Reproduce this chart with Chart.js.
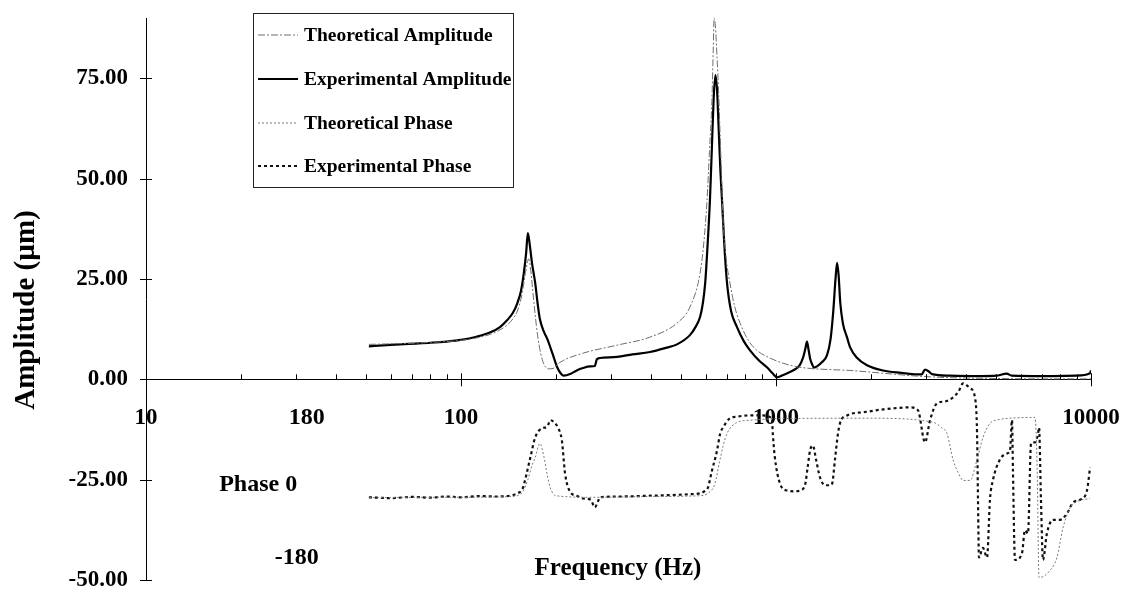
<!DOCTYPE html>
<html><head><meta charset="utf-8">
<script src="https://cdn.jsdelivr.net/npm/chart.js@4.4.1/dist/chart.umd.min.js"></script>
<style>html,body{margin:0;padding:0;background:#fff}#wrap{width:1124px;height:591px}</style>
</head><body><div id="wrap"><canvas id="c" width="1124" height="591"></canvas></div>
<script>
const xTickValues = [10, 100, 1000, 10000];
const yTickValues = [-50, -25, 0, 25, 50, 75];
const seriesLabels = ['Theoretical Amplitude', 'Experimental Amplitude', 'Theoretical Phase', 'Experimental Phase'];

const theoAmpFreq = [51,58,64,72,80,90,100,112,124,133,140,146,151,155,158,161,164,166,169,172,175,179,184,190,196,206,244,313,398,485,533,574,590,604,615,626,632,636,642,650,657,664,672,679,695,714,740,769,820,870,950,1053,1150,1283,1500,1718,2188,2803,3567,5000,7000,10000];
const theoAmpVal = [8.7,8.8,8.9,9.0,9.2,9.4,9.7,10.3,11.2,12.3,13.5,15,17,20,23.5,27.5,30,28,22,16,11,6.5,3.5,2.6,2.7,4.2,6.5,8.5,10.5,14,18,26.4,34,44.6,57,69.5,82,90,88,80,72,62,50,40,30,24,18,14,9.5,7.2,5.4,4,3.2,2.7,2.4,2.2,1.5,0.8,0.4,0.2,0.1,0.1];

const expAmpFreq = [51,58,64,72,80,90,100,112,124,133,140,146,151,155,158,161,163,165,168,172,175,178,183,188,195,202,208,212,222,233,244,257,266,270,276,313,350,398,450,485,533,555,574,586,596,606,617,626,634,642,650,658,666,674,686,699,720,752,790,827,880,936,975,1006,1050,1107,1150,1191,1220,1240,1254,1268,1283,1301,1320,1349,1400,1452,1490,1520,1545,1563,1580,1600,1630,1680,1718,1800,1945,2188,2500,2803,2900,2972,3050,3128,3567,4500,5000,5400,5600,7000,9000,9930,10000];
const expAmpVal = [8.2,8.5,8.7,8.9,9.1,9.4,9.8,10.6,11.7,13,14.7,16.5,19,22,26,31.5,36.4,34,29,24,19,15,12,10,6.5,3,1.3,0.9,1.3,2.2,2.8,3.2,3.3,5.0,5.3,5.6,6.2,6.8,7.9,8.7,11,13,15.5,19,24,33,44.6,58,70,75.8,72,62,52,44.6,33,24,17,13,9.5,7.2,4.8,3,1.5,0.5,1,1.8,2.5,3.6,5.5,7.7,9.4,7.5,5.2,3.8,2.9,3.2,4.3,6,10,17,25,29,26,19,14,10.5,8,5.5,3.5,2.2,1.6,1.2,1.2,2.4,2.0,1.3,0.9,0.8,0.9,1.4,0.9,0.8,0.9,1.5,2.2];

const theoPhFreq = [51,80,100,130,151,157,163,168,172,178,183,188,192,200,260,400,574,608,640,660,680,699,750,827,900,1000,2000,3150,3350,3490,3648,3800,3925,4130,4348,4539,4778,5140,5532,6642,6745,6840,7413,7798,8150,8580,9000,9930];
const theoPhVal = [-29.5,-29.4,-29.4,-29.3,-29,-28,-25,-21.5,-19.5,-16,-19,-24,-27,-29,-29.4,-29.2,-29,-28.4,-26,-21,-16.5,-13.5,-10.8,-10.2,-10,-9.8,-9.7,-10.7,-12,-13.5,-20,-23.5,-25.2,-25.2,-20,-14.5,-11,-10,-9.7,-9.5,-22,-49.4,-47.6,-44.4,-37,-32,-30.5,-29.7];

const expPhFreq = [51,60,70,80,90,100,115,130,145,151,157,161,166,172,181,188,192,198,203,209,214,222,233,244,258,266,272,276,320,400,480,540,574,595,608,625,650,665,679,714,750,827,900,970,977,990,1030,1084,1150,1191,1236,1260,1283,1310,1340,1379,1431,1480,1507,1539,1570,1596,1680,1900,2188,2663,2823,2972,3083,3243,3450,3648,3800,3925,4130,4285,4348,4378,4409,4539,4677,4778,4887,5140,5408,5532,5613,5650,5737,6036,6170,6310,6451,6642,6792,6840,6937,7040,7245,7573,7976,8395,8770,9230,9710,9930];
const expPhVal = [-29.4,-29.6,-29.3,-29.5,-29.2,-29.4,-29.1,-29.2,-28.9,-28.4,-27.2,-24,-19.5,-14.5,-12.2,-11.8,-10.2,-10.8,-12,-15.2,-23.5,-28,-29,-29.7,-30,-31.9,-30.5,-29.4,-29.2,-29,-28.8,-28.6,-28.4,-27.8,-27,-23,-17.7,-13.5,-12,-9.7,-9.3,-9,-9,-9.7,-13.5,-19,-26,-27.7,-27.9,-27.7,-26.4,-22,-17.7,-16.5,-20,-24.4,-26.4,-26.4,-26,-20,-14,-11,-9,-8.2,-7.5,-7,-7.7,-15.7,-10.2,-6,-5.5,-4.5,-3,-1,-2.2,-4.7,-13.5,-30,-44.4,-42,-44.4,-30,-25,-20,-18.5,-17.7,-10.2,-22,-45,-43.4,-37.6,-38.4,-16,-15.7,-13.5,-12,-30,-45,-38.4,-35,-35,-33.4,-30.7,-30,-27.7,-22];

const pts = (fs, vs) => fs.map((f, i) => ({x: f, y: vs[i]}));
const SERIF = '"Liberation Serif", "Times New Roman", serif';
const noPad = s => { s.paddingLeft = 0; s.paddingRight = 0; s.paddingTop = 0; s.paddingBottom = 0; };

const overlay = {
  id: 'overlay',
  afterDraw(chart) {
    const ctx = chart.ctx, xs = chart.scales.x, ys = chart.scales.y;
    const x0 = xs.left, y0 = ys.getPixelForValue(0);
    ctx.save();
    ctx.strokeStyle = '#000'; ctx.lineWidth = 1;
    ctx.beginPath();
    yTickValues.forEach(v => { const y = Math.round(ys.getPixelForValue(v)) + 0.5; ctx.moveTo(x0 - 6, y); ctx.lineTo(x0 + 6, y); });
    [10, 100, 1000].forEach(d => {
      for (let k = 2; k <= 9; k++) { const x = Math.round(xs.getPixelForValue(k * d)) + 0.5; ctx.moveTo(x, y0 - 5); ctx.lineTo(x, y0); }
    });
    [100, 1000, 10000].forEach(v => { const x = Math.round(xs.getPixelForValue(v)) + 0.5; ctx.moveTo(x, y0 - 6); ctx.lineTo(x, y0 + 7); });
    ctx.stroke();

    ctx.fillStyle = '#000'; ctx.textAlign = 'center'; ctx.textBaseline = 'middle';
    ctx.font = 'bold 24px ' + SERIF;
    [['180', 32.4, -9.7], ['Phase 0', 22.7, -26.4], ['-180', 30.1, -44.4]].forEach(([t, f, v]) => {
      ctx.fillText(t, xs.getPixelForValue(f), ys.getPixelForValue(v));
    });
    ctx.font = 'bold 25px ' + SERIF;
    ctx.fillText('Frequency (Hz)', xs.getPixelForValue(315), ys.getPixelForValue(-47.2));

    ctx.save();
    ctx.translate(27, 310); ctx.rotate(-Math.PI / 2);
    ctx.font = 'bold 29px ' + SERIF;
    ctx.fillText('Amplitude (\u00b5m)', 0, 0);
    ctx.restore();

    const bx = 253.5, by = 13.5, bw = 260, bh = 174;
    ctx.fillStyle = '#fff'; ctx.fillRect(bx, by, bw, bh);
    ctx.strokeStyle = '#222'; ctx.lineWidth = 1; ctx.setLineDash([]);
    ctx.strokeRect(bx, by, bw, bh);
    const rows = [35, 79, 123, 166];
    ctx.font = 'bold 19.5px ' + SERIF; ctx.textAlign = 'left'; ctx.fillStyle = '#000';
    chart.data.datasets.forEach((ds, i) => {
      const y = rows[i];
      ctx.save();
      ctx.strokeStyle = ds.borderColor; ctx.lineWidth = ds.borderWidth; ctx.setLineDash(ds.borderDash || []);
      ctx.beginPath(); ctx.moveTo(258, y); ctx.lineTo(298, y); ctx.stroke();
      ctx.restore();
      ctx.fillText(ds.label, 304, y + 1);
    });
    ctx.restore();
  }
};

new Chart(document.getElementById('c'), {
  type: 'line',
  data: {
    datasets: [
      {label: seriesLabels[0], data: pts(theoAmpFreq, theoAmpVal), borderColor: '#6e6e6e', borderWidth: 1, borderDash: [7, 2, 2, 2]},
      {label: seriesLabels[1], data: pts(expAmpFreq, expAmpVal), borderColor: '#000', borderWidth: 2.2},
      {label: seriesLabels[2], data: pts(theoPhFreq, theoPhVal), borderColor: '#7a7a7a', borderWidth: 1, borderDash: [2, 2]},
      {label: seriesLabels[3], data: pts(expPhFreq, expPhVal), borderColor: '#111', borderWidth: 2.2, borderDash: [3, 3]}
    ]
  },
  options: {
    responsive: false, animation: false, maintainAspectRatio: false,
    layout: {padding: {left: 0, right: 33, top: 18, bottom: 11}},
    elements: {point: {radius: 0}, line: {cubicInterpolationMode: 'monotone', fill: false}},
    plugins: {legend: {display: false}, tooltip: {enabled: false}},
    scales: {
      x: {
        type: 'logarithmic', min: 10, max: 10000,
        position: {y: 0},
        afterBuildTicks: s => { s.ticks = xTickValues.map(v => ({value: v, major: true})); },
        afterFit: noPad,
        grid: {display: true, drawOnChartArea: false, drawTicks: false},
        border: {display: true, color: '#000', width: 1},
        ticks: {autoSkip: false, maxRotation: 0, padding: 25, color: '#000', font: {family: SERIF, size: 23, weight: 'bold'}, callback: v => String(v)}
      },
      y: {
        type: 'linear', min: -50, max: 90,
        afterBuildTicks: s => { s.ticks = yTickValues.map(v => ({value: v})); },
        afterFit: s => { noPad(s); s.width = 146; },
        grid: {display: true, drawOnChartArea: false, drawTicks: false},
        border: {display: true, color: '#000', width: 1},
        ticks: {padding: 18, color: '#000', font: {family: SERIF, size: 23, weight: 'bold'}, callback: v => Number(v).toFixed(2)}
      }
    }
  },
  plugins: [overlay]
});
</script></body></html>
